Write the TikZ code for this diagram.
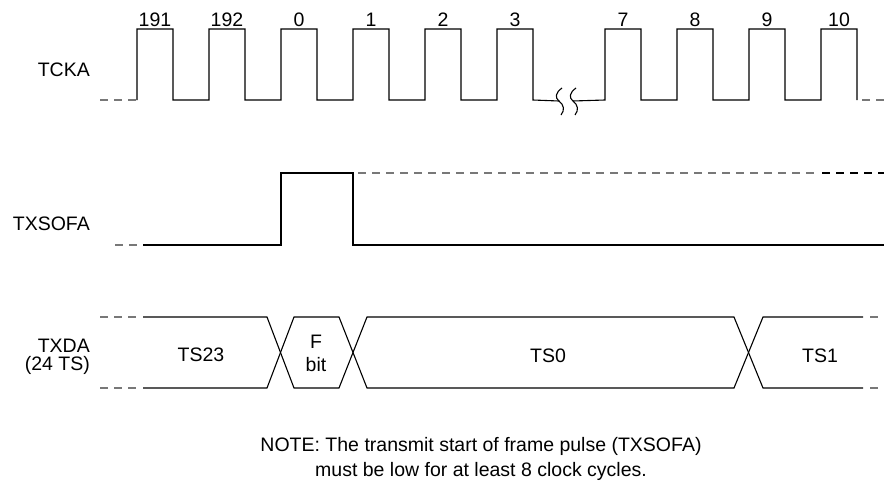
\documentclass[tikz,border=0pt]{standalone}
\usepackage{fontspec}
\setmainfont{Liberation Sans}
\begin{document}
\begin{tikzpicture}[x=1pt,y=-1pt,
  wave/.style={line width=1.1pt,black,line join=miter},
  gdash/.style={line width=1.1pt,color={rgb,255:red,120;green,120;blue,120},dash pattern=on 8pt off 6pt},
  bdash/.style={line width=1.1pt,black,dash pattern=on 8pt off 6pt},
  lbl/.style={inner sep=0pt,font=\fontsize{19.5}{23}\selectfont},
  brk/.style={line width=1.1pt,black}]
\useasboundingbox (0,0) rectangle (884,485);

% ---------- TCKA ----------
\node[lbl,anchor=base east] (tcka) at (90,76.5) {TCKA};
\draw[gdash] (100,100) -- (137,100);
\draw[wave] (137,100)
  \foreach \x in {137,209,281,353,425,497}{ -- (\x,100) -- (\x,29) -- (\x+36,29) -- (\x+36,100)}
  -- (559,101);
\draw[wave] (573,101)
  \foreach \x in {605,677,749,821}{ -- (\x,100) -- (\x,29) -- (\x+36,29) -- (\x+36,100)};
\draw[gdash] (862,100) -- (884,100);
% break marks
\draw[brk] (562,88) .. controls (555,93) and (555,98) .. (559,101) .. controls (564,105) and (565,110) .. (561,115);
\draw[brk] (576,88) .. controls (569,93) and (569,98) .. (573,101) .. controls (578,105) and (579,110) .. (575,115);

% clock numbers
\foreach \c/\t in {155/191,227/192,299/0,371/1,443/2,515/3,623/7,695/8,767/9,839/10}{
  \node[lbl,anchor=base] (n\t) at (\c,26.5) {\t};
}

% ---------- TXSOFA ----------
\node[lbl,anchor=base east] (txsofa) at (90,230) {TXSOFA};
\draw[gdash] (115,245) -- (140,245);
\draw[wave] (143,245) -- (281,245) -- (281,173) -- (353,173) -- (353,245) -- (884,245);
\draw[gdash] (358,173) -- (818,173);
\draw[bdash] (822,173) -- (884,173);

% ---------- TXDA ----------
\node[lbl,anchor=base east] (txda) at (90,352) {TXDA};
\node[lbl,anchor=base east] (txdats) at (90,370) {(24 TS)};
\draw[gdash] (100,317) -- (136,317);
\draw[gdash] (100,388) -- (136,388);
\draw[wave] (143,317) -- (267,317) -- (294,388) -- (339,388) -- (367,317) -- (734,317) -- (763,388) -- (863,388);
\draw[wave] (143,388) -- (267,388) -- (294,317) -- (339,317) -- (367,388) -- (734,388) -- (763,317) -- (863,317);
\draw[gdash] (870,317) -- (884,317);
\draw[gdash] (870,388) -- (884,388);

\node[lbl,anchor=base] (ts23) at (201,361.5) {TS23};
\node[lbl,anchor=base] (fb) at (316,348) {F};
\node[lbl,anchor=base] (fbit) at (316,371.5) {bit};
\node[lbl,anchor=base] (ts0) at (548,362) {TS0};
\node[lbl,anchor=base] (ts1) at (820,362) {TS1};

% ---------- NOTE ----------
\node[lbl,anchor=base] (note1) at (481,451) {NOTE: The transmit start of frame pulse (TXSOFA)};
\node[lbl,anchor=base] (note2) at (481,476) {must be low for at least 8 clock cycles.};
\end{tikzpicture}
\end{document}
